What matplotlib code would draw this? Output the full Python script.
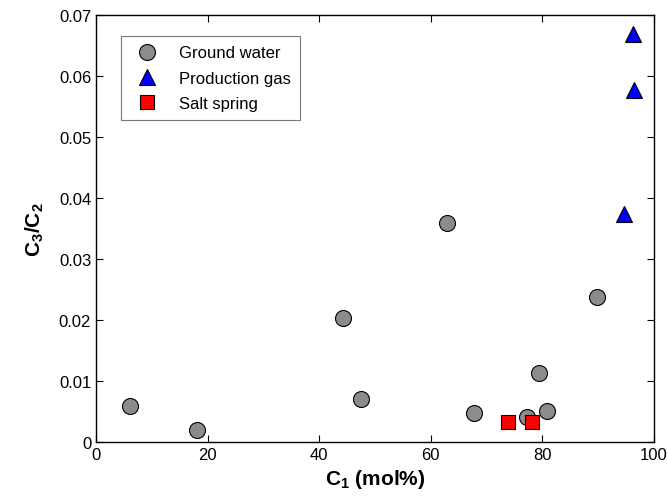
import matplotlib
matplotlib.use("Agg")
import matplotlib.pyplot as plt

# Ground water samples
gw_c1 = [6.1, 18.1, 44.3, 47.5, 63.0, 67.8, 77.3, 79.5, 80.8, 89.8]
gw_ratio = [0.0059, 0.0020, 0.0203, 0.0070, 0.0359, 0.0048, 0.0041, 0.0113, 0.0051, 0.0237]

# Production gas
pg_c1 = [96.3, 96.5, 94.6]
pg_ratio = [0.0669, 0.0576, 0.0373]

# Salt spring
ss_c1 = [73.8, 78.2]
ss_ratio = [0.0032, 0.0032]

plt.rcParams["font.family"] = ["Liberation Sans", "DejaVu Sans"]
plt.rcParams["mathtext.fontset"] = "custom"
plt.rcParams["mathtext.rm"] = "Liberation Sans:bold"
plt.rcParams["mathtext.bf"] = "Liberation Sans:bold"

fig = plt.figure(figsize=(6.68, 5.02), dpi=100)
ax = fig.add_axes([0.1437, 0.1175, 0.835, 0.851])

ax.plot(gw_c1, gw_ratio, "o", ms=11.5, mfc="#8c8c8c", mec="black", mew=0.8,
        label="Ground water")
ax.plot(pg_c1, pg_ratio, "^", ms=12, mfc="#0000ff", mec="black", mew=0.8,
        label="Production gas")
ax.plot(ss_c1, ss_ratio, "s", ms=9.5, mfc="#ff0000", mec="black", mew=0.8,
        label="Salt spring")

ax.set_xlim(0, 100)
ax.set_ylim(0, 0.07)
ax.set_xticks([0, 20, 40, 60, 80, 100])
ax.set_yticks([0, 0.01, 0.02, 0.03, 0.04, 0.05, 0.06, 0.07])
ax.set_yticklabels(["0", "0.01", "0.02", "0.03", "0.04", "0.05", "0.06", "0.07"])
ax.tick_params(direction="in", top=True, right=True, labelsize=12, length=5, width=0.8)
for s in ax.spines.values():
    s.set_linewidth(1.0)

ax.set_xlabel(r"$\mathbf{C}_{\mathbf{1}}$ (mol%)", fontsize=15, fontweight="bold", labelpad=4)
ax.set_ylabel(r"$\mathbf{C}_{\mathbf{3}}\mathbf{/C}_{\mathbf{2}}$", fontsize=15,
              fontweight="bold", labelpad=9)

leg = ax.legend(loc="upper left", bbox_to_anchor=(0.045, 0.95), fontsize=12,
                frameon=True, fancybox=False, edgecolor="#555555",
                handletextpad=0.9, borderpad=0.55, labelspacing=0.62,
                borderaxespad=0)
leg.get_frame().set_linewidth(0.8)

fig.savefig("out.png", dpi=100)
